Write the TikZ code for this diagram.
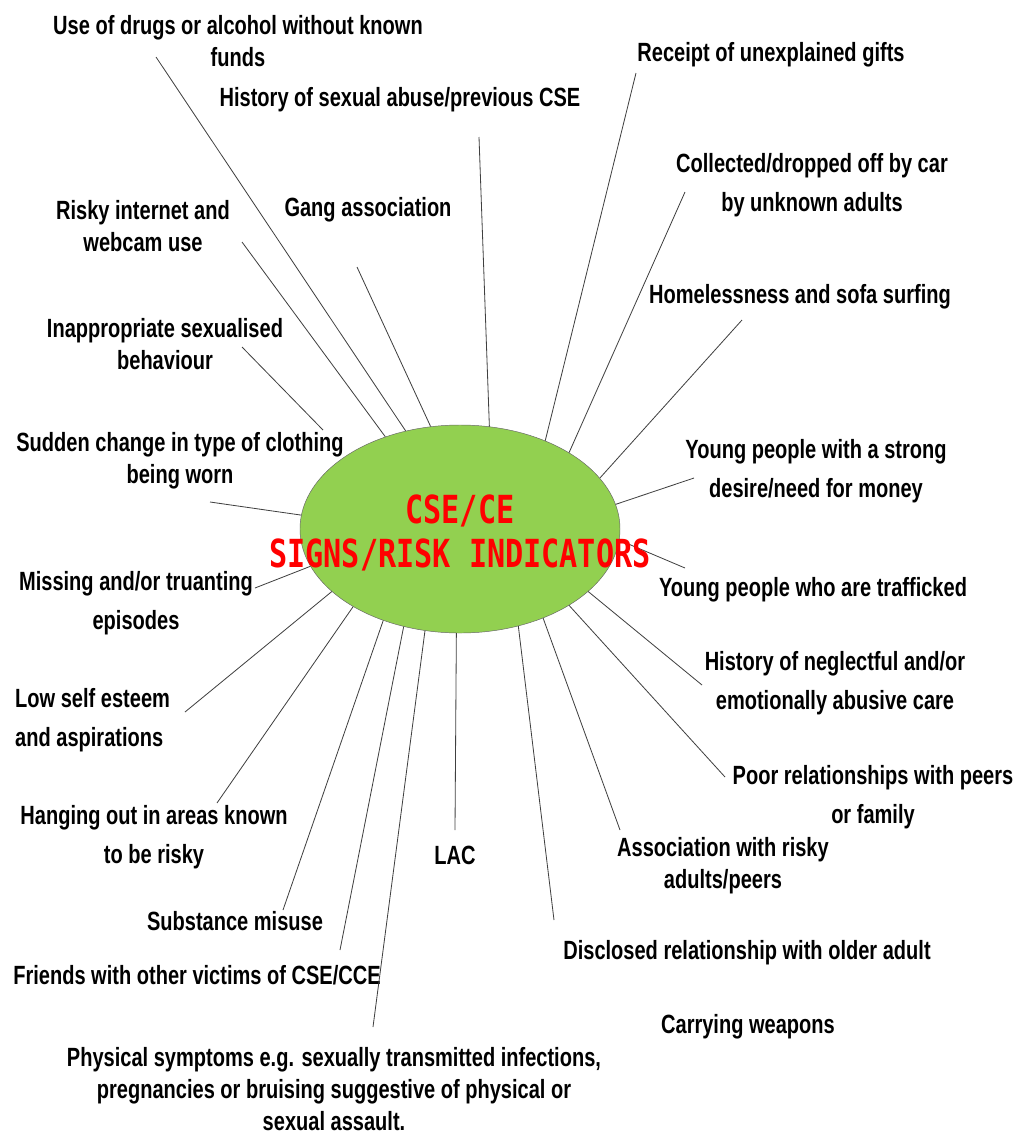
\documentclass[tikz,border=0pt]{standalone}
\usepackage{fontspec}
\usepackage{xcolor}
\usetikzlibrary{shapes}
\newfontfamily\lblfont{Liberation Sans}[FakeStretch=0.76]
\newfontfamily\hubfont{DejaVu Sans Mono}[FakeStretch=0.78]
\definecolor{hubgreen}{HTML}{92D050}

\begin{document}
\begin{tikzpicture}[x=0.03cm, y=-0.03cm,
		lbl/.style={align=center, inner sep=0pt, font=\lblfont\bfseries\fontsize{22.5}{27.3}\selectfont},
		lblw/.style={lbl, font=\lblfont\bfseries\fontsize{22.5}{33.3}\selectfont},
		link/.style={draw=black!75, line width=0.7pt},
		hub/.style={ellipse, draw=black!60, fill=hubgreen, minimum width=9.6cm, minimum height=6.24cm, inner sep=0pt}]
			\useasboundingbox (0,0) rectangle (1024,1135);
			
			% ellipse
			\node[hub] (hub) at (460,529) {};
			
			% labels, top
			\node[lbl] (drugs) at (238,41) {Use of drugs or alcohol without known\\funds};
			\node[lbl] (hist) at (400,100) {History of sexual abuse/previous CSE};
			\node[lbl] (gifts) at (771,55) {Receipt of unexplained gifts};
			\node[lblw] (car) at (812,185) {Collected/dropped off by car\\by unknown adults};
			\node[lbl] (web) at (143,226) {Risky internet and\\webcam use};
			\node[lbl] (gang) at (368,210) {Gang association};
			\node[lbl] (home) at (800,297) {Homelessness and sofa surfing};
			\node[lbl] (sexual) at (165,344) {Inappropriate sexualised\\behaviour};
			
			% labels, sides
			\node[lbl] (cloth) at (180,461) {Sudden change in type of clothing\\being worn};
			\node[lblw] (money) at (816,471) {Young people with a strong\\desire/need for money};
			\node[lblw] (miss) at (136,603) {Missing and/or truanting\\episodes};
			\node[lbl] (traf) at (813,590) {Young people who are trafficked};
			\node[lblw] (neglect) at (835,683) {History of neglectful and/or\\emotionally abusive care};
			\node[lblw, anchor=west, align=left] (esteem) at (15,720) {Low self esteem\\and aspirations};
			\node[lblw] (poor) at (873,797) {Poor relationships with peers\\or family};
			
			% labels, bottom
			\node[lblw] (hang) at (154,837) {Hanging out in areas known\\to be risky};
			\node[lbl] (lac) at (455,855) {LAC};
			\node[lbl] (assoc) at (723,866) {Association with risky\\adults/peers};
			\node[lbl] (subst) at (235,921) {Substance misuse};
			\node[lbl] (disc) at (747,953) {Disclosed relationship with older adult};
			\node[lbl] (friends) at (197,975) {Friends with other victims of CSE/CCE};
			\node[lbl] (weap) at (748,1027) {Carrying weapons};
			\node[lbl] (phys) at (334,1089) {Physical symptoms e.g. sexually transmitted infections,\\pregnancies or bruising suggestive of physical or\\sexual assault.};
			
			% free ends of the lines
			\coordinate (drugs-e) at (156,57);
			\coordinate (hist-e) at (479,137);
			\coordinate (gifts-e) at (636,73);
			\coordinate (car-e) at (685,192);
			\coordinate (web-e) at (242,242);
			\coordinate (gang-e) at (357,267);
			\coordinate (home-e) at (742,320);
			\coordinate (sexual-e) at (242,347);
			\coordinate (sexual-f) at (323,430);
			\coordinate (cloth-e) at (210,502);
			\coordinate (money-e) at (694,478);
			\coordinate (miss-e) at (255,588);
			\coordinate (traf-e) at (685,568);
			\coordinate (neglect-e) at (702,685);
			\coordinate (esteem-e) at (185,712);
			\coordinate (poor-e) at (725,777);
			\coordinate (hang-e) at (217,803);
			\coordinate (lac-e) at (455,830);
			\coordinate (assoc-e) at (620,830);
			\coordinate (subst-e) at (283,910);
			\coordinate (disc-e) at (554,920);
			\coordinate (friends-e) at (340,950);
			\coordinate (phys-e) at (373,1027);
			
			% lines to the ellipse
			\draw[link] (drugs-e) -- (hub.119.4);
			\draw[link] (hist-e) -- (hub.74.9);
			\draw[link] (gifts-e) -- (hub.46.3);
			\draw[link] (car-e) -- (hub.35);
			\draw[link] (web-e) -- (hub.129.7);
			\draw[link] (gang-e) -- (hub.106.1);
			\draw[link] (home-e) -- (hub.20);
			\draw[link] (sexual-e) -- (sexual-f);
			\draw[link] (cloth-e) -- (hub.175.7);
			\draw[link] (money-e) -- (hub.9.6);
			\draw[link] (miss-e) -- (hub.-166);
			\draw[link] (traf-e) -- (hub.-4);
			\draw[link] (neglect-e) -- (hub.-26.7);
			\draw[link] (esteem-e) -- (hub.-154.3);
			\draw[link] (poor-e) -- (hub.-35.9);
			\draw[link] (hang-e) -- (hub.-144.8);
			\draw[link] (lac-e) -- (hub.-92);
			\draw[link] (assoc-e) -- (hub.-47.9);
			\draw[link] (subst-e) -- (hub.-130.4);
			\draw[link] (disc-e) -- (hub.-59.3);
			\draw[link] (friends-e) -- (hub.-120.6);
			\draw[link] (phys-e) -- (hub.-109.8);
			
			% title
			\node[align=center, inner sep=0pt, text=red, font=\hubfont\bfseries\fontsize{33}{38.3}\selectfont] (title) at (460,533) {CSE/CE\\SIGNS/RISK INDICATORS};
		\end{tikzpicture}
\end{document}
